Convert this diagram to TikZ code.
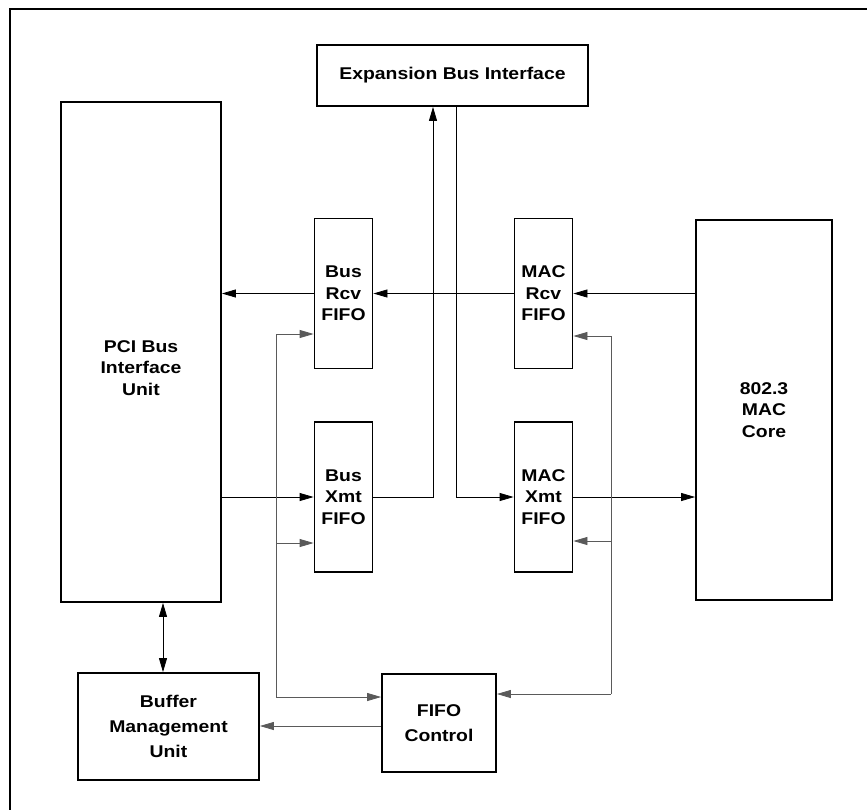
\documentclass[tikz,border=0pt]{standalone}
\usepackage{fontspec}
\setmainfont{Liberation Sans}[FakeStretch=1.14]
\usetikzlibrary{arrows.meta, positioning, calc}
\definecolor{railgray}{RGB}{90,90,90}

\begin{document}
\begin{tikzpicture}[x=1pt, y=-1pt,
        boxfont/.style={font=\fontsize{17}{21.5}\selectfont\bfseries},
        block/.style={draw=black, line width=1.8pt, inner sep=0pt,
                      align=center, boxfont},
        fifo/.style={block, minimum width=58pt, minimum height=150pt},
        arr/.style={-{Triangle[length=14pt,width=8pt]}, line width=0.8pt},
        rail/.style={arr, draw=railgray}
      ]
        \useasboundingbox (0,0) rectangle (867,809);
        \draw[line width=2pt] (10,815) -- (10,9) -- (875,9);

        \node[block, minimum width=271pt, minimum height=61pt] (exp) at (452.5,75.5) {Expansion Bus Interface};
        \node[block, minimum width=160pt, minimum height=500pt,
              label={[boxfont, align=center, yshift=-16pt]center:PCI Bus\\Interface\\Unit}] (pci) at (141,352) {};
        \node[fifo] (busrcv) at (343.5,293.5) {Bus\\Rcv\\FIFO};
        \node[fifo] (busxmt) at (343.5,497) {Bus\\Xmt\\FIFO};
        \node[fifo] (macrcv) at (543.5,293.5) {MAC\\Rcv\\FIFO};
        \node[fifo] (macxmt) at (543.5,497) {MAC\\Xmt\\FIFO};
        \node[block, minimum width=136pt, minimum height=380pt] (core) at (764,410) {802.3\\MAC\\Core};
        \node[block, minimum width=181pt, minimum height=107pt,
              font=\fontsize{17}{25}\selectfont\bfseries] (buf) at (168.5,726.5) {Buffer\\Management\\Unit};
        \node[block, minimum width=114pt, minimum height=98pt,
              font=\fontsize{17}{25}\selectfont\bfseries] (fifoc) at (439,723) {FIFO\\Control};

        \coordinate (railL) at (276,697);
        \coordinate (railR) at (611,694);

        % receive path
        \draw[arr] (core.west |- macrcv.east) -- (macrcv.east);
        \draw[arr] (macrcv.west) -- (busrcv.east);
        \draw[arr] (busrcv.west) -- (pci.east |- busrcv.west);

        % transmit path
        \draw[arr] (pci.east |- busxmt.west) -- (busxmt.west);
        \draw[arr] (busxmt.east) -| ([xshift=-19.5pt]exp.south);
        \draw[arr] ([xshift=3.5pt]exp.south) |- (macxmt.west);
        \draw[arr] (macxmt.east) -- (core.west |- macxmt.east);

        % fifo control
        \draw[rail] (railL) |- (busrcv.west |- 0,334);
        \draw[rail] (railL |- 0,543) -- (busxmt.west |- 0,543);
        \draw[rail] (railL) -- (fifoc.west |- railL);
        \draw[rail] (railR) |- (macrcv.east |- 0,336);
        \draw[rail] (railR |- 0,541) -- (macxmt.east |- 0,541);
        \draw[rail] (railR) -- (fifoc.east |- railR);
        \draw[rail] (fifoc.west |- 0,726) -- (buf.east |- 0,726);

        \draw[arr, {Triangle[length=14pt,width=8pt]}-{Triangle[length=14pt,width=8pt]}] (pci.south -| 163,0) -- (buf.north -| 163,0);
      \end{tikzpicture}
\end{document}
